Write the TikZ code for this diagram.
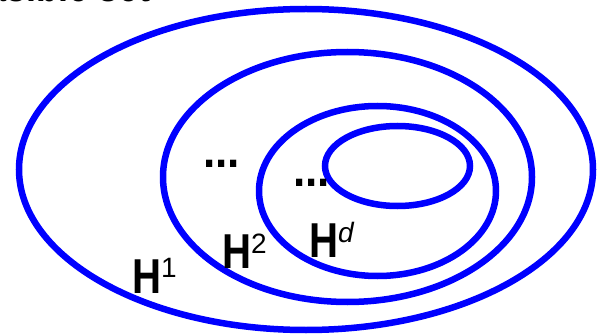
\documentclass[tikz,border=0pt]{standalone}
\usepackage{fontspec}
\setmainfont{Liberation Sans}
\definecolor{ringblue}{RGB}{0,0,255}
\begin{document}
\begin{tikzpicture}[x=1pt,y=-1pt,
  ring/.style={draw=ringblue,line width=6.5pt},
  lab/.style={inner sep=0pt,outer sep=0pt,anchor=base west,text=black},
  dotlab/.style={inner sep=0pt,outer sep=0pt,anchor=base west,text=black,font=\fontsize{49}{49}\selectfont\bfseries}]
\useasboundingbox (0,0) rectangle (600,334);
\clip (0,0) rectangle (600,334);
% cut-off title
\node[inner sep=0pt,anchor=base east,font=\fontsize{44}{44}\selectfont\bfseries] (title) at (151,2) {\scalebox{0.82}[1]{Feasible set}};
% nested sets
\draw[ring] (306,169.5) ellipse [x radius=287, y radius=160.5];
\draw[ring] (347.5,177) ellipse [x radius=184.5, y radius=125];
\draw[ring] (377.5,191) ellipse [x radius=118.5, y radius=85];
\draw[ring] (397.5,166) ellipse [x radius=72.5, y radius=40];
% dots
\node[dotlab] (dots1) at (203,167.5) {\scalebox{0.9}[1]{...}};
\node[dotlab] (dots2) at (293,186.5) {\scalebox{0.9}[1]{...}};
% labels
\node[lab] (h1) at (132,293) {\scalebox{0.82}[1]{\fontsize{49}{49}\selectfont\bfseries H}\raisebox{16pt}{\fontsize{28}{28}\selectfont 1}};
\node[lab] (h2) at (222,268) {\scalebox{0.82}[1]{\fontsize{49}{49}\selectfont\bfseries H}\raisebox{15pt}{\fontsize{28}{28}\selectfont 2}};
\node[lab] (hd) at (309,257) {\scalebox{0.82}[1]{\fontsize{49}{49}\selectfont\bfseries H}\raisebox{15pt}{\fontsize{28}{28}\selectfont\itshape d}};
\end{tikzpicture}
\end{document}
